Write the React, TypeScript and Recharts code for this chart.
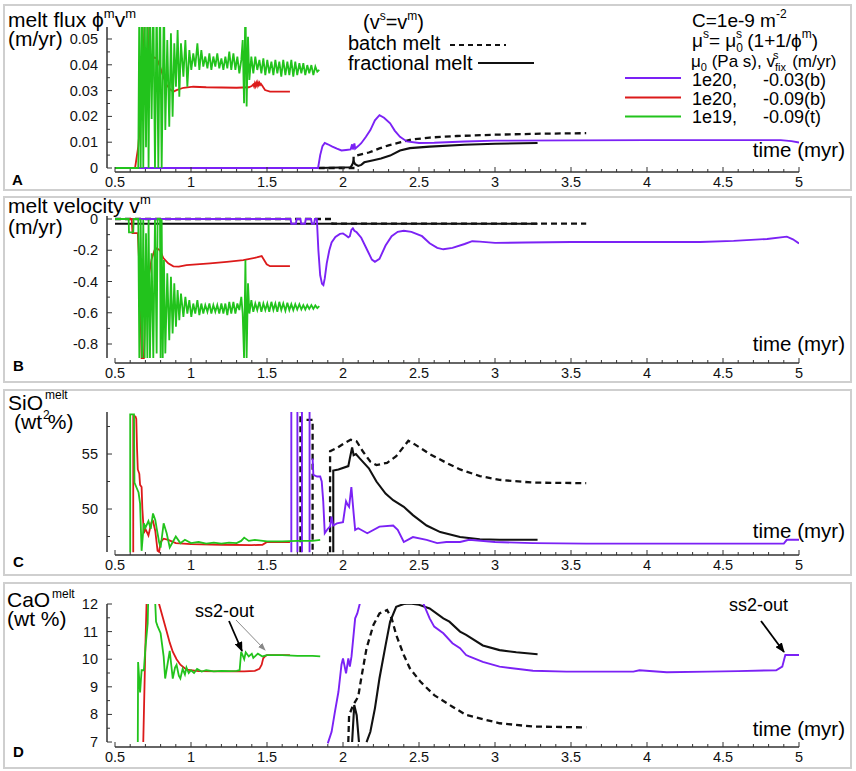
import React from "react";
import { LineChart, Line, XAxis, YAxis, ReferenceLine } from "recharts";

type Pt = [number, number | null];

const FONT = "'Liberation Sans', Arial, Helvetica, sans-serif";
const AXIS = "#333";
const PURPLE = "#7b22f5";
const RED = "#dc1a1a";
const GREEN = "#22c31c";
const BLACK = "#111";

// time axis (myr)
const TIME_LABELS = [0.5, 1, 1.5, 2, 2.5, 3, 3.5, 4, 4.5, 5];
const TIME_TICKS = Array.from({ length: 46 }, (_, i) => Math.round((0.5 + i * 0.1) * 10) / 10);
const X_MIN = 0.5 - 8 / 152;

// ---------- A: melt flux (m/yr) ----------
const A_LABELS = [0, 0.01, 0.02, 0.03, 0.04, 0.05];
const A_MINOR = [0.005, 0.015, 0.025, 0.035, 0.045];

const A_PURPLE: Pt[] = [
  [0.5, 0], [1.836, 0], [1.85, 0.005], [1.865, 0.0085], [1.88, 0.0097], [1.9, 0.0092],
  [1.93, 0.0083], [1.96, 0.0075], [1.99, 0.0068], [2.02, 0.007], [2.05, 0.0072], [2.06, 0.0092],
  [2.065, 0.0072], [2.075, 0.0095], [2.08, 0.0075], [2.1, 0.0085], [2.12, 0.0096], [2.15, 0.012],
  [2.18, 0.0147], [2.21, 0.0185], [2.24, 0.0205], [2.27, 0.0195], [2.31, 0.0173], [2.34, 0.0145],
  [2.375, 0.0121], [2.42, 0.0103], [2.5, 0.0097], [2.6, 0.0098], [2.8, 0.0103], [3.0, 0.0106],
  [3.5, 0.0107], [4.0, 0.0108], [4.5, 0.0108], [4.88, 0.0108], [4.95, 0.0104], [5.0, 0.0099],
];

const A_RED: Pt[] = [
  [0.5, 0], [0.632, 0], [0.653, 0.0083], [0.675, 0.025], [0.7, 0.065], [0.712, 0.065],
  [0.719, 0.0451], [0.73, 0.0445], [0.745, 0.0425], [0.76, 0.0428], [0.775, 0.0425],
  [0.796, 0.0393], [0.818, 0.0354], [0.84, 0.0322], [0.862, 0.0305], [0.884, 0.0296],
  [0.905, 0.0302], [0.95, 0.0311], [1.015, 0.0315], [1.1, 0.0313], [1.2, 0.0312], [1.3, 0.0311],
  [1.38, 0.0313], [1.4, 0.0318], [1.41, 0.0324], [1.415, 0.0316], [1.42, 0.0328], [1.425, 0.0318],
  [1.43, 0.033], [1.435, 0.032], [1.44, 0.0332], [1.445, 0.0322], [1.45, 0.033], [1.455, 0.0322],
  [1.46, 0.0326], [1.47, 0.0318], [1.487, 0.0302], [1.52, 0.0296], [1.651, 0.0296],
];

const A_GREEN: Pt[] = [
  [0.5, 0], [0.653, 0], [0.66, 0.065], [0.669, 0], [0.678, 0.065], [0.686, 0], [0.695, 0.065],
  [0.704, 0.008], [0.713, 0.065], [0.721, 0], [0.73, 0.065], [0.741, 0.019], [0.752, 0.065],
  [0.763, 0], [0.774, 0.065], [0.785, 0], [0.796, 0.065], [0.807, 0], [0.814, 0.0315],
  [0.822, 0.065], [0.831, 0.0147], [0.844, 0.0496], [0.857, 0.016], [0.868, 0.0522],
  [0.879, 0.0199], [0.89, 0.0483], [0.901, 0.0315], [0.912, 0.0535], [0.923, 0.0276],
  [0.934, 0.0483], [0.95, 0.0354], [0.963, 0.0496], [0.976, 0.0315], [0.989, 0.0457],
  [1.002, 0.038], [1.015, 0.0444], [1.028, 0.0393], [1.042, 0.0483], [1.055, 0.038],
  [1.068, 0.0457], [1.081, 0.0393], [1.094, 0.0432], [1.108, 0.0386], [1.121, 0.0444],
  [1.134, 0.038], [1.147, 0.0432], [1.16, 0.0393], [1.173, 0.0444], [1.186, 0.0386],
  [1.2, 0.0425], [1.213, 0.038], [1.226, 0.0432], [1.239, 0.0386], [1.252, 0.0451],
  [1.265, 0.038], [1.279, 0.0444], [1.292, 0.038], [1.305, 0.0432], [1.318, 0.0367],
  [1.331, 0.0419], [1.34, 0.0496], [1.349, 0.0251], [1.358, 0.065], [1.366, 0.0238],
  [1.375, 0.0509], [1.384, 0.0341], [1.397, 0.0432], [1.41, 0.0367], [1.423, 0.0432],
  [1.436, 0.038], [1.45, 0.0419], [1.463, 0.0367], [1.476, 0.0425], [1.489, 0.036],
  [1.502, 0.0419], [1.515, 0.0367], [1.529, 0.0412], [1.542, 0.036], [1.555, 0.0419],
  [1.568, 0.0367], [1.581, 0.0412], [1.594, 0.0354], [1.607, 0.0419], [1.621, 0.036],
  [1.634, 0.0412], [1.647, 0.036], [1.66, 0.0419], [1.673, 0.0354], [1.686, 0.0412],
  [1.699, 0.036], [1.713, 0.0406], [1.726, 0.0367], [1.739, 0.0406], [1.752, 0.036],
  [1.765, 0.0399], [1.778, 0.0367], [1.792, 0.0399], [1.805, 0.036], [1.818, 0.0393],
  [1.831, 0.0373], [1.844, 0.038],
];

const A_BATCH: Pt[] = [
  [1.84, 0], [2.068, 0], [2.07, 0.0045], [2.1, 0.005], [2.17, 0.006], [2.24, 0.0076],
  [2.3, 0.0088], [2.375, 0.0099], [2.45, 0.011], [2.57, 0.0118], [2.75, 0.0124],
  [3.0, 0.0129], [3.3, 0.0133], [3.6, 0.0135],
];

const A_FRAC: Pt[] = [
  [1.84, 0], [2.05, 0.0003], [2.06, 0.0012], [2.07, 0.0026], [2.08, 0.0015], [2.1, 0.0008],
  [2.12, 0.0012], [2.14, 0.0022], [2.2, 0.003], [2.25, 0.0037], [2.31, 0.0048], [2.375, 0.0068],
  [2.44, 0.0077], [2.57, 0.0083], [2.8, 0.009], [3.0, 0.0094], [3.28, 0.0097],
];

// ---------- B: melt velocity (m/yr) ----------
const B_LABELS = [0, -0.2, -0.4, -0.6, -0.8];
const B_MINOR = [-0.1, -0.3, -0.5, -0.7];

const B_PURPLE: Pt[] = [
  [0.5, 0], [1.655, 0], [1.66, -0.03], [1.69, -0.03], [1.695, 0], [1.72, 0], [1.725, -0.03],
  [1.75, -0.03], [1.755, 0], [1.79, 0], [1.795, -0.03], [1.81, -0.03], [1.815, 0], [1.828, 0],
  [1.838, -0.2], [1.85, -0.36], [1.862, -0.415], [1.871, -0.423], [1.88, -0.38], [1.893, -0.284],
  [1.91, -0.2], [1.925, -0.15], [1.95, -0.115], [1.98, -0.095], [2.0, -0.092], [2.02, -0.105],
  [2.035, -0.117], [2.045, -0.11], [2.055, -0.07], [2.065, -0.06], [2.075, -0.075], [2.09, -0.085],
  [2.12, -0.12], [2.16, -0.2], [2.19, -0.26], [2.21, -0.274], [2.24, -0.255], [2.28, -0.17],
  [2.32, -0.11], [2.36, -0.082], [2.4, -0.075], [2.45, -0.082], [2.52, -0.11], [2.57, -0.155],
  [2.62, -0.185], [2.66, -0.194], [2.72, -0.185], [2.8, -0.16], [2.85, -0.142], [2.9, -0.145],
  [3.0, -0.153], [3.2, -0.15], [3.5, -0.147], [4.0, -0.147], [4.35, -0.147], [4.57, -0.14],
  [4.79, -0.128], [4.92, -0.113], [4.96, -0.13], [5.0, -0.156],
];

const B_RED: Pt[] = [
  [0.5, 0], [0.61, 0], [0.615, -0.09], [0.65, -0.09], [0.66, -0.3], [0.675, -0.89], [0.69, -0.89],
  [0.7, -0.5], [0.72, -0.38], [0.74, -0.26], [0.76, -0.2], [0.774, -0.188], [0.796, -0.2],
  [0.818, -0.25], [0.85, -0.284], [0.884, -0.303], [0.92, -0.305], [0.97, -0.295], [1.125, -0.284],
  [1.235, -0.274], [1.344, -0.263], [1.432, -0.246], [1.465, -0.237], [1.498, -0.29],
  [1.52, -0.302], [1.651, -0.302],
];

const B_GREEN: Pt[] = [
  [0.5, 0], [0.59, 0], [0.592, -0.085], [0.62, -0.085], [0.623, 0], [0.653, 0], [0.66, -0.89],
  [0.669, 0], [0.678, -0.89], [0.686, -0.005], [0.695, -0.89], [0.704, -0.092], [0.713, -0.89],
  [0.721, -0.005], [0.73, -0.89], [0.741, -0.22], [0.752, -0.89], [0.763, -0.005], [0.774, -0.86],
  [0.78, 0], [0.796, 0], [0.8, -0.89], [0.807, 0], [0.814, -0.89], [0.822, -0.263], [0.831, -0.86],
  [0.844, -0.348], [0.857, -0.776], [0.868, -0.37], [0.879, -0.733], [0.89, -0.412], [0.901, -0.69],
  [0.912, -0.455], [0.923, -0.647], [0.934, -0.477], [0.95, -0.626], [0.963, -0.498],
  [0.976, -0.605], [0.989, -0.519], [1.002, -0.626], [1.015, -0.541], [1.028, -0.605],
  [1.042, -0.519], [1.055, -0.615], [1.068, -0.541], [1.081, -0.605], [1.094, -0.551],
  [1.108, -0.594], [1.121, -0.541], [1.134, -0.605], [1.147, -0.551], [1.16, -0.594],
  [1.173, -0.551], [1.186, -0.605], [1.2, -0.541], [1.213, -0.605], [1.226, -0.541],
  [1.239, -0.615], [1.252, -0.53], [1.265, -0.605], [1.279, -0.53], [1.292, -0.605],
  [1.305, -0.541], [1.318, -0.583], [1.331, -0.498], [1.34, -0.605], [1.349, -0.89],
  [1.358, -0.263], [1.366, -0.89], [1.375, -0.412], [1.384, -0.605], [1.397, -0.519],
  [1.41, -0.594], [1.423, -0.541], [1.436, -0.583], [1.45, -0.53], [1.463, -0.594],
  [1.476, -0.541], [1.489, -0.583], [1.502, -0.541], [1.515, -0.594], [1.529, -0.53],
  [1.542, -0.583], [1.555, -0.541], [1.568, -0.594], [1.581, -0.53], [1.594, -0.583],
  [1.607, -0.541], [1.621, -0.588], [1.634, -0.536], [1.647, -0.583], [1.66, -0.545],
  [1.673, -0.583], [1.686, -0.545], [1.699, -0.579], [1.713, -0.545], [1.726, -0.579],
  [1.739, -0.551], [1.752, -0.579], [1.765, -0.551], [1.778, -0.575], [1.792, -0.551],
  [1.805, -0.575], [1.818, -0.553], [1.831, -0.57], [1.844, -0.558],
];

const B_BATCH: Pt[] = [[0.5, 0], [1.925, 0], [1.93, -0.03], [3.6, -0.03]];
const B_FRAC: Pt[] = [[0.5, -0.03], [3.28, -0.03]];

// ---------- C: SiO2 melt (wt %) ----------
const C_LABELS = [50, 55];
const C_MINOR = [47.5, 52.5, 57.5];

const C_PURPLE: Pt[] = [
  [1.66, 46.07], [1.66, 59.5], [1.661, null], [1.7, 46.07], [1.7, 59.5], [1.701, null],
  [1.73, 46.07], [1.73, 59.5], [1.731, null], [1.78, 46.07], [1.78, 59.5], [1.785, null],
  [1.8, 54.6], [1.805, 53.1], [1.83, 52.95], [1.85, 52.95], [1.86, 52.5], [1.87, 50.7],
  [1.88, 47.8], [1.89, 48.0], [1.9, 48.2], [1.915, 48.4], [1.925, 49.3], [1.935, 48.5],
  [1.96, 48.7], [2.0, 48.8], [2.02, 50.7], [2.03, 50.4], [2.04, 50.2], [2.055, 52.0],
  [2.07, 49.6], [2.08, 48.1], [2.1, 48.25], [2.16, 47.8], [2.24, 48.4], [2.33, 48.5],
  [2.36, 48.1], [2.4, 47.0], [2.46, 47.45], [2.55, 47.2], [2.62, 46.9], [2.68, 47.0],
  [2.77, 47.0], [2.83, 47.2], [3.0, 47.0], [3.25, 46.9], [3.6, 46.85], [4.13, 46.85],
  [4.5, 46.85], [4.9, 46.85], [4.92, 47.2], [5.0, 47.2],
];

const C_RED: Pt[] = [
  [0.62, 46.07], [0.62, 58.5], [0.635, 58.4], [0.64, 58.2], [0.645, 55.5], [0.65, 53.6],
  [0.66, 53.2], [0.665, 52.2], [0.675, 52.0], [0.68, 50.0], [0.69, 47.8], [0.7, 48.2],
  [0.72, 47.6], [0.74, 48.8], [0.75, 48.9], [0.765, 48.0], [0.78, 46.2], [0.79, 46.1],
  [0.8, 47.0], [0.82, 47.3], [0.85, 47.2], [0.9, 46.9], [1.0, 46.8], [1.2, 46.75],
  [1.4, 46.72], [1.47, 46.75], [1.5, 47.0], [1.651, 47.0],
];

const C_GREEN: Pt[] = [
  [0.6, 46.07], [0.6, 58.6], [0.625, 58.6], [0.628, 52.4], [0.64, 52.0], [0.655, 51.5],
  [0.665, 50.5], [0.675, 46.2], [0.69, 48.7], [0.7, 48.3], [0.72, 48.9], [0.735, 48.2],
  [0.75, 49.6], [0.765, 49.0], [0.776, 48.1], [0.79, 47.0], [0.8, 46.5], [0.82, 48.7],
  [0.84, 47.8], [0.86, 46.5], [0.88, 47.0], [0.9, 47.5], [0.93, 46.9], [0.96, 47.2],
  [1.0, 46.9], [1.05, 47.0], [1.1, 46.85], [1.15, 46.95], [1.2, 46.85], [1.25, 46.95],
  [1.3, 46.9], [1.33, 47.1], [1.35, 47.4], [1.38, 47.1], [1.42, 47.2], [1.5, 47.05],
  [1.6, 47.05], [1.7, 47.1], [1.8, 47.1], [1.85, 47.2],
];

const C_BATCH: Pt[] = [
  [1.72, 46.07], [1.72, 59.5], [1.725, null], [1.76, 58.1], [1.8, 58.1], [1.8, 46.07],
  [1.805, null], [1.915, 46.07], [1.915, 55.25], [1.96, 55.55], [2.01, 56.0], [2.05, 56.3],
  [2.09, 56.15], [2.13, 55.25], [2.18, 54.3], [2.22, 54.0], [2.29, 54.2], [2.35, 54.8],
  [2.43, 56.2], [2.47, 55.9], [2.57, 55.0], [2.68, 54.2], [2.77, 53.6], [2.9, 53.0],
  [3.03, 52.65], [3.25, 52.4], [3.6, 52.35],
];

const C_FRAC: Pt[] = [
  [1.936, 46.07], [1.936, 53.5], [1.97, 53.6], [2.035, 53.9], [2.045, 54.6], [2.06, 55.6],
  [2.07, 54.9], [2.085, 55.0], [2.11, 54.6], [2.17, 53.7], [2.22, 52.5], [2.28, 51.4],
  [2.33, 50.8], [2.4, 50.2], [2.46, 49.45], [2.55, 48.5], [2.64, 47.9], [2.77, 47.45],
  [2.9, 47.25], [3.03, 47.2], [3.28, 47.2],
];

// ---------- D: CaO melt (wt %) ----------
const D_LABELS = [7, 8, 9, 10, 11, 12];
const D_MINOR = [7.5, 8.5, 9.5, 10.5, 11.5];

const D_PURPLE: Pt[] = [
  [1.9, 6.95], [1.925, 7.37], [1.947, 8.1], [1.97, 8.82], [1.99, 9.8], [2.0, 10.03],
  [2.02, 9.49], [2.035, 10.03], [2.045, 9.73], [2.056, 10.1], [2.08, 11.48], [2.094, 11.66],
  [2.11, 12.0], [2.12, 12.5], [2.15, null], [2.5, 12.5], [2.53, 12.0], [2.57, 11.48],
  [2.6, 11.18], [2.66, 10.94], [2.72, 10.58], [2.77, 10.4], [2.81, 10.15], [2.83, 10.1],
  [2.92, 9.9], [3.03, 9.73], [3.25, 9.58], [3.47, 9.55], [3.7, 9.55], [3.91, 9.55],
  [3.95, 9.6], [4.13, 9.53], [4.4, 9.55], [4.6, 9.57], [4.85, 9.6], [4.89, 9.73],
  [4.91, 10.15], [5.0, 10.15],
];

const D_RED: Pt[] = [
  [0.686, 7], [0.7, 10.5], [0.71, 12.5], [0.78, 12.5], [0.79, 12], [0.815, 11.5], [0.84, 11.0],
  [0.86, 10.6], [0.88, 10.27], [0.905, 10.0], [0.93, 9.8], [0.97, 9.62], [1.05, 9.57],
  [1.2, 9.56], [1.35, 9.56], [1.42, 9.58], [1.45, 9.65], [1.465, 9.8], [1.475, 10.03],
  [1.49, 10.12], [1.5, 10.15], [1.651, 10.15],
];

const D_GREEN: Pt[] = [
  [0.65, 7], [0.652, 9.9], [0.665, 8.8], [0.675, 9.6], [0.69, 9.6], [0.7, 10.4], [0.71, 11.0],
  [0.715, 11.3], [0.72, 12.5], [0.76, 12.5], [0.765, 12], [0.77, 11.36], [0.78, 11.2],
  [0.8, 10.94], [0.82, 10.1], [0.83, 9.3], [0.845, 9.8], [0.86, 10.3], [0.87, 9.8], [0.88, 9.3],
  [0.895, 9.7], [0.905, 9.8], [0.92, 9.4], [0.93, 9.3], [0.945, 9.65], [0.96, 9.45], [0.97, 9.7],
  [0.985, 9.5], [1.0, 9.6], [1.02, 9.5], [1.04, 9.65], [1.07, 9.55], [1.1, 9.6], [1.15, 9.56],
  [1.2, 9.58], [1.25, 9.57], [1.3, 9.58], [1.32, 9.6], [1.33, 10.27], [1.35, 10.0],
  [1.36, 10.25], [1.38, 10.1], [1.4, 10.2], [1.41, 10.05], [1.44, 10.2], [1.47, 10.1],
  [1.5, 10.15], [1.6, 10.15], [1.7, 10.12], [1.8, 10.12], [1.85, 10.1],
];

const D_BATCH: Pt[] = [
  [2.035, 7.0], [2.04, 7.97], [2.067, 8.34], [2.1, 8.64], [2.12, 9.31], [2.155, 10.4],
  [2.2, 11.24], [2.24, 11.66], [2.29, 11.78], [2.32, 11.48], [2.35, 10.88], [2.4, 10.15],
  [2.44, 9.67], [2.51, 9.18], [2.6, 8.7], [2.72, 8.28], [2.81, 7.98], [3.03, 7.68],
  [3.25, 7.56], [3.6, 7.53],
];

const D_FRAC: Pt[] = [
  [2.06, 7], [2.074, 8.34], [2.09, 7.97], [2.105, 7.0], [2.11, null], [2.155, 7.0],
  [2.18, 7.37], [2.21, 8.22], [2.24, 9.31], [2.28, 10.5], [2.31, 11.36], [2.35, 11.9],
  [2.4, 12.0], [2.44, 12.02], [2.5, 11.97], [2.57, 11.84], [2.66, 11.48], [2.7, 11.36],
  [2.77, 11.0], [2.81, 10.88], [2.92, 10.5], [3.03, 10.33], [3.14, 10.25], [3.28, 10.18],
];

type Series = { data: Pt[]; color: string; dash?: boolean; w: number };
type Panel = {
  top: number;
  height: number;
  mt: number;
  xh: number;
  domain: [number, number];
  axisBottom: number;
  labels: number[];
  minor: number[];
  series: Series[];
};

const blackLines = (batch: Pt[], frac: Pt[]): Series[] => [
  { data: batch, color: BLACK, dash: true, w: 2.3 },
  { data: frac, color: BLACK, w: 2.1 },
];

const colorLines = (purple: Pt[], red: Pt[], green: Pt[]): Series[] => [
  { data: purple, color: PURPLE, w: 1.9 },
  { data: red, color: RED, w: 1.8 },
  { data: green, color: GREEN, w: 1.8 },
];

const PANELS: Panel[] = [
  {
    top: 3, height: 188, mt: 24, xh: 19, domain: [-0.00155, 0.05465], axisBottom: 0,
    labels: A_LABELS, minor: A_MINOR,
    series: [...blackLines(A_BATCH, A_FRAC), ...colorLines(A_PURPLE, A_RED, A_GREEN)],
  },
  {
    top: 196, height: 187, mt: 20, xh: 20, domain: [-0.9216, 0.0192], axisBottom: -0.8896,
    labels: B_LABELS, minor: B_MINOR,
    series: [...blackLines(B_BATCH, B_FRAC), ...colorLines(B_PURPLE, B_RED, B_GREEN)],
  },
  {
    top: 389, height: 187, mt: 23, xh: 21, domain: [45.82, 58.82], axisBottom: 46.09,
    labels: C_LABELS, minor: C_MINOR,
    series: [...blackLines(C_BATCH, C_FRAC), ...colorLines(C_PURPLE, C_RED, C_GREEN)],
  },
  {
    top: 582, height: 187, mt: 22, xh: 22, domain: [6.82, 12], axisBottom: 7,
    labels: D_LABELS, minor: D_MINOR,
    series: [...blackLines(D_BATCH, D_FRAC), ...colorLines(D_PURPLE, D_RED, D_GREEN)],
  },
];

const toRows = (pts: Pt[]) => pts.map(([t, v]) => ({ t, v }));

function TimeTick(props: any) {
  const { x, y, payload } = props;
  const v = payload.value;
  const major = TIME_LABELS.some((m) => Math.abs(m - v) < 1e-6);
  return (
    <g>
      <line x1={x} x2={x} y1={y} y2={y - (major ? 5 : 3)} stroke={AXIS} strokeWidth={1} />
      {major && (
        <text x={x} y={y + 15} textAnchor="middle" fontSize={14.5} fontFamily={FONT} fill="#111">
          {String(v)}
        </text>
      )}
    </g>
  );
}

function ValueTick(props: any) {
  const { x, y, payload, labels } = props;
  const v = payload.value;
  const major = labels.some((m: number) => Math.abs(m - v) < 1e-9);
  return (
    <g>
      <line x1={x} x2={x + (major ? 5 : 3)} y1={y} y2={y} stroke={AXIS} strokeWidth={1} />
      {major && (
        <text x={x - 9} y={y + 5} textAnchor="end" fontSize={14.5} fontFamily={FONT} fill="#111">
          {String(v)}
        </text>
      )}
    </g>
  );
}

function PanelChart({ p }: { p: Panel }) {
  return (
    <div style={{ position: "absolute", left: 0, top: p.top }}>
      <LineChart width={856} height={p.height} margin={{ top: p.mt, right: 57, bottom: 0, left: 47 }}>
        <XAxis
          type="number"
          dataKey="t"
          domain={[X_MIN, 5]}
          ticks={TIME_TICKS}
          interval={0}
          allowDataOverflow
          axisLine={false}
          tickLine={false}
          tickSize={0}
          tickMargin={0}
          height={p.xh}
          tick={(props: any) => <TimeTick {...props} />}
        />
        <YAxis
          type="number"
          domain={p.domain}
          ticks={[...p.labels, ...p.minor]}
          interval={0}
          allowDataOverflow
          axisLine={false}
          tickLine={false}
          tickSize={0}
          tickMargin={0}
          width={60}
          tick={(props: any) => <ValueTick {...props} labels={p.labels} />}
        />
        <ReferenceLine
          segment={[{ x: 0.5, y: p.domain[0] }, { x: 5, y: p.domain[0] }]}
          stroke={AXIS}
          strokeWidth={1.5}
          ifOverflow="visible"
        />
        <ReferenceLine
          segment={[{ x: X_MIN, y: p.axisBottom }, { x: X_MIN, y: p.domain[1] }]}
          stroke={AXIS}
          strokeWidth={1.5}
          ifOverflow="visible"
        />
        {p.series.map((s, i) => (
          <Line
            key={i}
            data={toRows(s.data)}
            dataKey="v"
            type="linear"
            stroke={s.color}
            strokeWidth={s.w}
            strokeDasharray={s.dash ? "6 4" : undefined}
            dot={false}
            activeDot={false}
            connectNulls={false}
            isAnimationActive={false}
          />
        ))}
      </LineChart>
    </div>
  );
}

const BOXES = [
  { top: 4, height: 187 },
  { top: 196, height: 187 },
  { top: 389, height: 187 },
  { top: 582, height: 187 },
];

function Labels() {
  return (
    <svg
      width={856}
      height={771}
      style={{ position: "absolute", left: 0, top: 0, pointerEvents: "none" }}
      fontFamily={FONT}
      fill="#000"
    >
      <defs>
        <marker id="ahB" markerWidth="10" markerHeight="8" refX="9" refY="4" orient="auto" markerUnits="userSpaceOnUse">
          <path d="M0,0 L10,4 L0,8 z" fill="#000" />
        </marker>
        <marker id="ahG" markerWidth="8" markerHeight="6" refX="7" refY="3" orient="auto" markerUnits="userSpaceOnUse">
          <path d="M0,0 L8,3 L0,6 z" fill="#888" />
        </marker>
      </defs>

      {/* A */}
      <text x={8} y={27} fontSize={21}>
        melt flux ϕ<tspan fontSize={13} dy={-9}>m</tspan>
        <tspan dy={9}>v</tspan>
        <tspan fontSize={13} dy={-9}>m</tspan>
      </text>
      <text x={8} y={46} fontSize={21}>(m/yr)</text>
      <text x={363} y={29} fontSize={20}>
        (v<tspan fontSize={12} dy={-9}>s</tspan>
        <tspan dy={9}>=v</tspan>
        <tspan fontSize={12} dy={-9}>m</tspan>
        <tspan dy={9}>)</tspan>
      </text>
      <text x={348} y={50} fontSize={20}>batch melt</text>
      <line x1={450} x2={506} y1={45} y2={45} stroke={BLACK} strokeWidth={2.2} strokeDasharray="5 4" />
      <text x={348} y={70} fontSize={20}>fractional melt</text>
      <line x1={478} x2={534} y1={63} y2={63} stroke={BLACK} strokeWidth={2} />

      <text x={692} y={27} fontSize={19}>
        C=1e-9 m<tspan fontSize={12} dy={-9}>-2</tspan>
      </text>
      <text x={692} y={47} fontSize={19}>
        μ<tspan fontSize={12} dy={-9}>s</tspan>
        <tspan dy={9}>= μ</tspan>
        <tspan fontSize={12} dy={5}>0</tspan>
        <tspan fontSize={12} dx={-7} dy={-14}>s</tspan>
        <tspan dy={9}> (1+1/ϕ</tspan>
        <tspan fontSize={12} dy={-9}>m</tspan>
        <tspan dy={9}>)</tspan>
      </text>
      <text x={691} y={67} fontSize={17}>
        μ<tspan fontSize={11} dy={4}>0</tspan>
        <tspan dy={-4}> (Pa s), v</tspan>
        <tspan fontSize={11} dy={4}>fix</tspan>
        <tspan fontSize={11} dx={-13} dy={-12}>s</tspan>
        <tspan dx={9} dy={8}> (m/yr)</tspan>
      </text>
      <line x1={625} x2={681} y1={78} y2={78} stroke={PURPLE} strokeWidth={2} />
      <line x1={625} x2={681} y1={97.5} y2={97.5} stroke={RED} strokeWidth={2} />
      <line x1={625} x2={681} y1={116.5} y2={116.5} stroke={GREEN} strokeWidth={2} />
      <text x={692} y={86} fontSize={18}>1e20,</text>
      <text x={763} y={86} fontSize={18}>-0.03(b)</text>
      <text x={692} y={104.5} fontSize={18}>1e20,</text>
      <text x={763} y={104.5} fontSize={18}>-0.09(b)</text>
      <text x={692} y={123} fontSize={18}>1e19,</text>
      <text x={763} y={123} fontSize={18}>-0.09(t)</text>
      <text x={845} y={157} fontSize={20.5} textAnchor="end">time (myr)</text>
      <text x={12} y={185} fontSize={15} fontWeight="bold">A</text>

      {/* B */}
      <text x={8} y={213} fontSize={21}>
        melt velocity v<tspan fontSize={13} dy={-9}>m</tspan>
      </text>
      <text x={8} y={234} fontSize={21}>(m/yr)</text>
      <text x={845} y={351} fontSize={20.5} textAnchor="end">time (myr)</text>
      <text x={13} y={371} fontSize={15} fontWeight="bold">B</text>

      {/* C */}
      <text x={8} y={410} fontSize={21}>SiO</text>
      <text x={43} y={419} fontSize={12}>2</text>
      <text x={45} y={399} fontSize={12}>melt</text>
      <text x={14} y={429} fontSize={21}>(wt %)</text>
      <text x={845} y={538} fontSize={20.5} textAnchor="end">time (myr)</text>
      <text x={13} y={567} fontSize={15} fontWeight="bold">C</text>

      {/* D */}
      <text x={7} y={607} fontSize={21}>CaO</text>
      <text x={52} y={598} fontSize={12}>melt</text>
      <text x={7} y={626} fontSize={21}>(wt %)</text>
      <text x={845} y={736} fontSize={20.5} textAnchor="end">time (myr)</text>
      <text x={13} y={757} fontSize={15} fontWeight="bold">D</text>

      <text x={195} y={617} fontSize={18}>ss2-out</text>
      <line x1={229} y1={621} x2={242} y2={651} stroke="#000" strokeWidth={1.8} markerEnd="url(#ahB)" />
      <line x1={236} y1={620} x2={265} y2={650} stroke="#888" strokeWidth={1} markerEnd="url(#ahG)" />
      <text x={729} y={611} fontSize={18}>ss2-out</text>
      <line x1={761} y1={621} x2={784} y2={652} stroke="#000" strokeWidth={1.8} markerEnd="url(#ahB)" />
    </svg>
  );
}

export default function App() {
  return (
    <div
      style={{
        position: "fixed",
        left: 0,
        top: 0,
        width: 856,
        height: 771,
        background: "#fff",
        fontFamily: FONT,
        overflow: "hidden",
      }}
    >
      {BOXES.map((b, i) => (
        <div
          key={i}
          style={{
            position: "absolute",
            left: 3,
            top: b.top,
            width: 849,
            height: b.height,
            border: "2px solid #cfcfcf",
            boxSizing: "border-box",
          }}
        />
      ))}
      {PANELS.map((p, i) => (
        <PanelChart key={i} p={p} />
      ))}
      <Labels />
    </div>
  );
}
